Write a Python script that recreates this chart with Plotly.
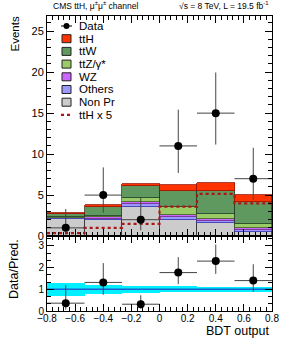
import plotly.graph_objects as go
from plotly.subplots import make_subplots

# ---------------- data ----------------
bin_edges = [-0.8, -0.5333, -0.2667, 0.0, 0.2667, 0.5333, 0.8]
nonpr = [2.10, 1.95, 3.55, 2.00, 1.60, 0.55]
others = [0.05, 0.15, 0.40, 0.30, 0.20, 0.20]
wz = [0.08, 0.20, 0.25, 0.30, 0.25, 0.20]
ttz = [0.12, 0.20, 0.40, 0.95, 0.70, 0.50]
ttw = [0.35, 1.10, 1.50, 1.95, 2.75, 2.75]
tth = [0.07, 0.20, 0.30, 0.72, 1.03, 0.80]
data = [1, 5, 2, 11, 15, 7]
data_err_up = [2.30, 3.38, 2.64, 4.42, 4.96, 3.77]
data_err_down = [0.83, 2.16, 1.29, 3.30, 3.84, 2.58]
band_halfwidth = [0.30, 0.20, 0.17, 0.13, 0.12, 0.12]
tth_scale = 5

# ---------------- derived ----------------
centers = [(a + b) / 2 for a, b in zip(bin_edges[:-1], bin_edges[1:])]
widths = [b - a for a, b in zip(bin_edges[:-1], bin_edges[1:])]
total = [sum(v) for v in zip(nonpr, others, wz, ttz, ttw, tth)]
ratio = [d / t for d, t in zip(data, total)]
ratio_up = [e / t for e, t in zip(data_err_up, total)]
ratio_down = [e / t for e, t in zip(data_err_down, total)]
tth_x5 = [v * tth_scale for v in tth]

W, H = 284, 343
L, R, T, B = 47, 12, 16, 32
pw, ph = W - L - R, H - T - B


def px(x):
    return (x - L) / pw


def py(y):
    return (H - B - y) / ph


FONT = "Liberation Sans, Arial, sans-serif"

fig = make_subplots(rows=2, cols=1, shared_xaxes=True, vertical_spacing=0,
                    row_heights=[0.746, 0.254])

stack = [
    ("Non Pr", nonpr, "#cccccc", "#333333"),
    ("Others", others, "#9999ff", "#3333aa"),
    ("WZ", wz, "#cc66ff", "#6a2a8a"),
    ("ttZ/γ*", ttz, "#99cc66", "#3d5a25"),
    ("ttW", ttw, "#5f995f", "#264026"),
    ("ttH", tth, "#ff3300", "#991100"),
]
for name, vals, col, lcol in stack:
    fig.add_trace(go.Bar(x=centers, y=vals, width=widths, name=name,
                         marker=dict(color=col, line=dict(color=lcol, width=0.8)),
                         showlegend=False), row=1, col=1)

fig.add_trace(go.Scatter(x=bin_edges, y=tth_x5 + [tth_x5[-1]], mode="lines",
                         line=dict(shape="hv", color="#aa1515", width=2.2, dash="dot"),
                         showlegend=False), row=1, col=1)

fig.add_trace(go.Scatter(x=centers, y=data, mode="markers",
                         marker=dict(color="black", size=8),
                         error_y=dict(type="data", symmetric=False, array=data_err_up,
                                      arrayminus=data_err_down, color="#444444",
                                      thickness=1, width=0),
                         error_x=dict(type="data", array=[w / 2 for w in widths],
                                      color="#444444", thickness=1, width=0),
                         showlegend=False), row=1, col=1)

# ratio panel
fig.add_trace(go.Bar(x=centers, y=[2 * b for b in band_halfwidth],
                     base=[1 - b for b in band_halfwidth], width=widths,
                     marker=dict(color="#00f0ff", line=dict(width=0)),
                     showlegend=False), row=2, col=1)
fig.add_trace(go.Scatter(x=[bin_edges[0], bin_edges[-1]], y=[1, 1], mode="lines",
                         line=dict(color="#1a63d0", width=1.6), showlegend=False),
              row=2, col=1)
fig.add_trace(go.Scatter(x=centers, y=ratio, mode="markers",
                         marker=dict(color="black", size=8),
                         error_y=dict(type="data", symmetric=False, array=ratio_up,
                                      arrayminus=ratio_down, color="#444444",
                                      thickness=1, width=0),
                         error_x=dict(type="data", array=[w / 2 for w in widths],
                                      color="#444444", thickness=1, width=0),
                         showlegend=False), row=2, col=1)

axis_common = dict(showline=True, linecolor="black", linewidth=1, mirror="allticks",
                   ticks="inside", tickcolor="black", showgrid=False, zeroline=False,
                   automargin=False,
                   tickfont=dict(family=FONT, size=10, color="black"))

fig.update_xaxes(range=[-0.8, 0.8], tick0=-0.8, dtick=0.2, ticklen=7,
                 minor=dict(ticks="inside", ticklen=4, dtick=0.04, tickcolor="black"),
                 **axis_common)
fig.update_xaxes(showticklabels=False, row=1, col=1)
fig.update_xaxes(showticklabels=True, ticklabelstandoff=-2, row=2, col=1)
fig.update_yaxes(range=[0, 26.85], dtick=5, ticklen=7,
                 minor=dict(ticks="inside", ticklen=4, dtick=1, tickcolor="black"),
                 row=1, col=1, **axis_common)
fig.update_yaxes(tickfont=dict(family=FONT, size=11, color="black"), row=1, col=1)
fig.update_yaxes(range=[0, 3.45], dtick=1, ticklen=7,
                 minor=dict(ticks="inside", ticklen=4, dtick=1 / 3, tickcolor="black"),
                 row=2, col=1, **axis_common)

annotations = [
    dict(text="CMS ttH, μ<sup>±</sup>μ<sup>±</sup> channel", x=px(51), y=py(13),
         xanchor="left", yanchor="bottom", font=dict(size=8.5)),
    dict(text="√s = 8 TeV, L = 19.5 fb<sup>-1</sup>", x=px(271), y=py(13),
         xanchor="right", yanchor="bottom", font=dict(size=8.5)),
    dict(text="Events", x=px(14), y=py(15), xanchor="center", yanchor="top",
         textangle=-90, font=dict(size=11.5)),
    dict(text="Data/Pred.", x=px(14), y=py(237), xanchor="center", yanchor="top",
         textangle=-90, font=dict(size=12.5)),
    dict(text="BDT output", x=px(272), y=py(331), xanchor="right", yanchor="middle",
         font=dict(size=12.5)),
]

shapes = []
leg_labels = ["Data", "ttH", "ttW", "ttZ/γ*", "WZ", "Others", "Non Pr", "ttH x 5"]
leg_colors = {name: col for name, _, col, _ in stack}
for i, lab in enumerate(leg_labels):
    yc = 26 + 12.7 * i
    annotations.append(dict(text=lab, x=px(77), y=py(yc), xanchor="left",
                            yanchor="middle", font=dict(size=11.5)))
    if lab == "Data":
        shapes.append(dict(type="line", xref="paper", yref="paper", x0=px(61), x1=px(72),
                           y0=py(yc), y1=py(yc), line=dict(color="black", width=1)))
        shapes.append(dict(type="circle", xref="paper", yref="paper", x0=px(63.5),
                           x1=px(69.5), y0=py(yc + 3), y1=py(yc - 3),
                           fillcolor="black", line=dict(color="black", width=0)))
    elif lab == "ttH x 5":
        shapes.append(dict(type="line", xref="paper", yref="paper", x0=px(61), x1=px(72),
                           y0=py(yc), y1=py(yc),
                           line=dict(color="#aa1515", width=2.2, dash="dot")))
    else:
        shapes.append(dict(type="rect", xref="paper", yref="paper", x0=px(62), x1=px(71),
                           y0=py(yc + 4), y1=py(yc - 4), fillcolor=leg_colors[lab],
                           line=dict(color="#222222", width=1)))

for a in annotations:
    a.update(xref="paper", yref="paper", showarrow=False)
    a.setdefault("font", {})
    a["font"].update(family=FONT, color="black")

fig.update_layout(width=W, height=H, margin=dict(l=L, r=R, t=T, b=B),
                  barmode="stack", bargap=0, plot_bgcolor="white", paper_bgcolor="white",
                  annotations=annotations, shapes=shapes, showlegend=False,
                  font=dict(family=FONT, color="black"))

fig.write_html("out.html", config={"displayModeBar": False},
               post_script="document.body.style.margin='0';"
               "document.body.style.overflow='hidden';")
